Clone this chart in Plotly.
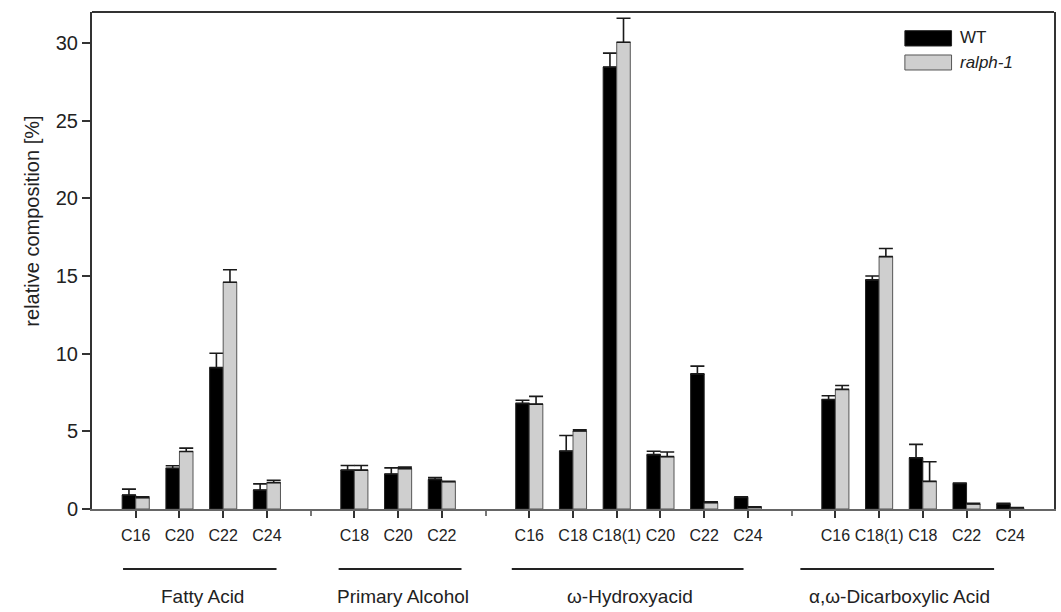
import plotly.graph_objects as go

# Cutin monomer composition, WT vs ralph-1 (mean and SD, %)
groups = ["Fatty Acid", "Primary Alcohol", "ω-Hydroxyacid", "α,ω-Dicarboxylic Acid"]
group_sizes = [4, 3, 6, 5]
chain_labels = ["C16", "C20", "C22", "C24",
                "C18", "C20", "C22",
                "C16", "C18", "C18(1)", "C20", "C22", "C24",
                "C16", "C18(1)", "C18", "C22", "C24"]
wt_mean = [0.90, 2.62, 9.10, 1.22,
           2.50, 2.25, 1.90,
           6.80, 3.73, 28.45, 3.50, 8.70, 0.75,
           7.05, 14.75, 3.30, 1.65, 0.33]
wt_err = [0.38, 0.16, 0.93, 0.40,
          0.30, 0.40, 0.12,
          0.20, 1.00, 0.90, 0.22, 0.50, 0.03,
          0.24, 0.25, 0.86, 0.02, 0.03]
ralph_mean = [0.73, 3.70, 14.60, 1.70,
              2.50, 2.60, 1.76,
              6.75, 5.02, 30.05, 3.37, 0.41, 0.12,
              7.70, 16.25, 1.78, 0.32, 0.07]
ralph_err = [0.05, 0.22, 0.80, 0.15,
             0.30, 0.10, 0.03,
             0.50, 0.08, 1.55, 0.30, 0.05, 0.02,
             0.25, 0.52, 1.26, 0.05, 0.02]

# x slots: one empty slot between compound classes
positions, separators, spans = [], [], []
slot = 1
for gi, n in enumerate(group_sizes):
    positions.extend(range(slot, slot + n))
    spans.append((slot, slot + n - 1))
    slot += n
    if gi < len(group_sizes) - 1:
        separators.append(slot)
        slot += 1
x_max = slot

BAR_W = 0.31
FONT = "Liberation Sans, Arial, Helvetica, sans-serif"

fig = go.Figure()
fig.add_trace(go.Bar(
    x=positions, y=wt_mean, name="WT",
    offset=-BAR_W, width=BAR_W,
    marker=dict(color="#000000", line=dict(color="#222222", width=1)),
    error_y=dict(type="data", array=wt_err, arrayminus=[0] * len(wt_err),
                 symmetric=False, color="#1a1a1a", thickness=1.6, width=7),
))
fig.add_trace(go.Bar(
    x=positions, y=ralph_mean, name="ralph-1",
    offset=0, width=BAR_W,
    marker=dict(color="#cfcfcf", line=dict(color="#555555", width=1)),
    error_y=dict(type="data", array=ralph_err, arrayminus=[0] * len(ralph_err),
                 symmetric=False, color="#1a1a1a", thickness=1.6, width=7),
))

# group underlines and names below the chain-length labels
line_extent = [(-0.29, 0.22), (-0.36, 0.45), (-0.40, -0.10), (-0.80, -0.37)]
shapes = []
annotations = []
for (a, b), (da, db), name in zip(spans, line_extent, groups):
    x0, x1 = a + da, b + db
    shapes.append(dict(type="line", xref="x", yref="paper",
                       x0=x0, x1=x1, y0=-0.1207, y1=-0.1207,
                       line=dict(color="#222222", width=1.8)))
    annotations.append(dict(text=name, xref="x", yref="paper",
                            x=(x0 + x1) / 2 + 0.06, y=-0.177,
                            xanchor="center", yanchor="middle", showarrow=False,
                            font=dict(family=FONT, size=19, color="#222222")))

# top border of the frame
shapes.append(dict(type="line", xref="paper", yref="paper", x0=0, x1=1, y0=1, y1=1,
                   line=dict(color="#333333", width=2)))

# legend swatches
shapes.append(dict(type="rect", xref="paper", yref="paper",
                   x0=0.845, x1=0.8935, y0=0.9316, y1=0.9624,
                   fillcolor="#000000", line=dict(color="#222222", width=1)))
shapes.append(dict(type="rect", xref="paper", yref="paper",
                   x0=0.845, x1=0.8935, y0=0.8833, y1=0.9135,
                   fillcolor="#cfcfcf", line=dict(color="#555555", width=1)))
annotations.append(dict(text="WT", xref="paper", yref="paper", x=0.9004, y=0.9477,
                        xanchor="left", yanchor="middle", showarrow=False,
                        font=dict(family=FONT, size=17, color="#222222")))
annotations.append(dict(text="<i>ralph-1</i>", xref="paper", yref="paper", x=0.9004, y=0.8974,
                        xanchor="left", yanchor="middle", showarrow=False,
                        font=dict(family=FONT, size=17, color="#222222")))

# y-axis title
annotations.append(dict(text="relative composition [%]", xref="paper", yref="paper",
                        x=-0.0622, y=0.5785, textangle=-90,
                        xanchor="center", yanchor="middle", showarrow=False,
                        font=dict(family=FONT, size=20, color="#222222")))

fig.update_layout(
    width=1061, height=612,
    margin=dict(l=92, r=5, t=12, b=103),
    paper_bgcolor="white", plot_bgcolor="white",
    barmode="overlay", showlegend=False,
    shapes=shapes, annotations=annotations,
    font=dict(family=FONT, color="#222222"),
)
fig.update_xaxes(
    range=[0, x_max], tickmode="array", tickvals=positions, ticktext=chain_labels,
    tickangle=0, ticks="outside", ticklen=7, tickwidth=1.5, tickcolor="#333333",
    ticklabelstandoff=4,
    tickfont=dict(family=FONT, size=16, color="#222222"),
    showline=True, linecolor="#666666", linewidth=2,
    showgrid=False, zeroline=False,
    minor=dict(tickmode="array", tickvals=separators, ticks="outside",
               ticklen=5, tickwidth=1.5, tickcolor="#777777", showgrid=False),
)
fig.update_yaxes(
    range=[0, 32], tickmode="array", tickvals=[0, 5, 10, 15, 20, 25, 30],
    ticks="outside", ticklen=8, tickwidth=1.5, tickcolor="#333333",
    tickfont=dict(family=FONT, size=20, color="#222222"),
    showline=True, linecolor="#333333", linewidth=2, mirror=True,
    showgrid=False, zeroline=False,
)

fig.write_html("out.html")
